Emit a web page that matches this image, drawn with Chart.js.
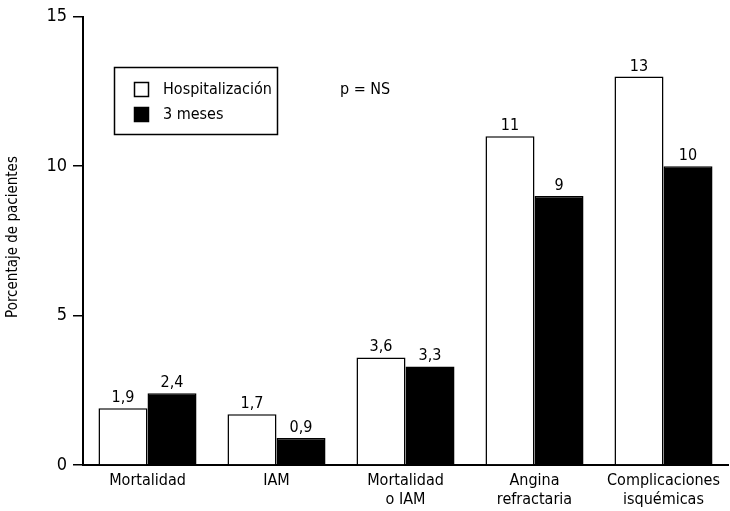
<!DOCTYPE html>
<html>
<head>
<meta charset="utf-8">
<script src="https://cdn.jsdelivr.net/npm/chart.js@4/dist/chart.umd.min.js"></script>
<style>
html,body{margin:0;padding:0;background:#fff;}
#wrap{width:730px;height:511px;position:relative;}
</style>
</head>
<body>
<div id="wrap"><canvas id="c" width="730" height="511"></canvas></div>
<script>
const categories = [["Mortalidad"], ["IAM"], ["Mortalidad", "o IAM"], ["Angina", "refractaria"], ["Complicaciones", "isquémicas"]];
const hospitalizacion = [1.9, 1.7, 3.6, 11, 13];
const tresMeses = [2.4, 0.9, 3.3, 9, 10];
const yTicks = [0, 5, 10, 15];
const seriesNames = ["Hospitalización", "3 meses"];
const yTitle = "Porcentaje de pacientes";
const note = "p = NS";

const FONT = "'Liberation Sans Narrow', 'DejaVu Sans Condensed', 'Liberation Sans', sans-serif";

const labelsPlugin = {
  id: 'labelsPlugin',
  afterDatasetsDraw(chart) {
    const ctx = chart.ctx;
    ctx.save();
    ctx.fillStyle = '#000';
    ctx.font = '16px ' + FONT;
    ctx.textAlign = 'center';
    ctx.textBaseline = 'alphabetic';
    chart.data.datasets.forEach((ds, i) => {
      const meta = chart.getDatasetMeta(i);
      meta.data.forEach((bar, j) => {
        const v = ds.data[j];
        const t = String(v).replace('.', ',');
        ctx.fillText(t, bar.x, bar.y - 6);
      });
    });
    // legend box
    ctx.lineWidth = 1.5;
    ctx.strokeStyle = '#000';
    ctx.strokeRect(114.5, 67.5, 163, 67);
    ctx.fillStyle = '#fff';
    ctx.fillRect(134.5, 82.5, 14, 14);
    ctx.strokeRect(134.5, 82.5, 14, 14);
    ctx.fillStyle = '#000';
    ctx.fillRect(134.5, 107.5, 14, 14);
    ctx.strokeRect(134.5, 107.5, 14, 14);
    ctx.font = '16px ' + FONT;
    ctx.textAlign = 'left';
    ctx.textBaseline = 'middle';
    ctx.fillText(seriesNames[0], 163, 90);
    ctx.fillText(seriesNames[1], 163, 115);
    ctx.fillText(note, 340, 90);
    // y title
    ctx.save();
    ctx.translate(13, 237);
    ctx.rotate(-Math.PI / 2);
    ctx.textAlign = 'center';
    ctx.font = '15px ' + FONT;
    ctx.fillText(yTitle, 0, 0);
    ctx.restore();
    ctx.restore();
  }
};

new Chart(document.getElementById('c'), {
  type: 'bar',
  data: {
    labels: categories,
    datasets: [
      { label: seriesNames[0], data: hospitalizacion, backgroundColor: '#fff', borderColor: '#000', borderWidth: 1.5 },
      { label: seriesNames[1], data: tresMeses, backgroundColor: '#000', borderColor: '#000', borderWidth: 1.5 }
    ]
  },
  options: {
    responsive: false,
    animation: false,
    datasets: { bar: { categoryPercentage: 0.76, barPercentage: 1.0 } },
    layout: { padding: { top: 15, right: 2, left: 0, bottom: 0 } },
    plugins: { legend: { display: false }, tooltip: { enabled: false } },
    scales: {
      x: {
        grid: { display: true, drawOnChartArea: false, drawTicks: false },
        border: { display: true, color: '#000', width: 2 },
        ticks: { color: '#000', font: { family: FONT, size: 16 }, padding: 6, maxRotation: 0, autoSkip: false },
        afterFit(scale) { scale.height = 46; }
      },
      y: {
        min: 0, max: 15,
        afterBuildTicks(scale) { scale.ticks = yTicks.map(v => ({ value: v })); },
        grid: { display: true, drawOnChartArea: false, drawTicks: true, tickLength: 10, color: '#000', lineWidth: 1.5 },
        border: { display: true, color: '#000', width: 2 },
        ticks: { color: '#000', font: { family: FONT, size: 18 }, padding: 6 },
        afterFit(scale) { scale.width = 83; }
      }
    }
  },
  plugins: [labelsPlugin]
});
</script>
</body>
</html>
